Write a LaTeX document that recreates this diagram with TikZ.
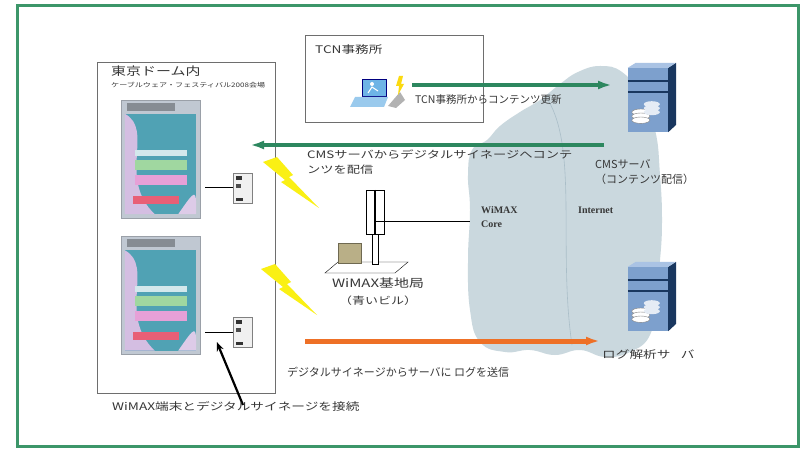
\documentclass[tikz,border=0pt]{standalone}
\usepackage{fontspec}
\setmainfont{Noto Sans CJK JP}
\newfontfamily\jpwide[FakeStretch=1.3]{Noto Sans CJK JP}
\newfontfamily\latinserif{Liberation Serif}
\usepackage{tikz}
\usetikzlibrary{arrows.meta,positioning,calc}
\definecolor{framegreen}{RGB}{60,150,105}
\definecolor{flowgreen}{RGB}{45,135,95}
\definecolor{floworange}{RGB}{238,112,38}
\definecolor{cloudfill}{RGB}{202,216,222}
\definecolor{cloudline}{RGB}{170,190,200}
\definecolor{servermid}{RGB}{125,160,205}
\definecolor{serverdark}{RGB}{25,55,95}
\definecolor{serverlight}{RGB}{170,195,228}
\definecolor{boltyellow}{RGB}{250,240,20}
\definecolor{signteal}{RGB}{80,162,180}
\definecolor{signpink}{RGB}{230,160,215}
\definecolor{signgreen}{RGB}{160,215,160}
\definecolor{signred}{RGB}{232,95,118}
\definecolor{signgray}{RGB}{192,200,210}
\definecolor{signlilac}{RGB}{212,190,226}
\definecolor{boxgray}{RGB}{110,110,110}
\definecolor{textgray}{RGB}{55,55,55}
\definecolor{eqkhaki}{RGB}{185,175,135}
\definecolor{pcblue}{RGB}{110,180,230}

% signage panel face, drawn inside a named node
\newcommand{\signface}[1]{%
  \fill[signteal] ($(#1.north west)+(4,14)$) rectangle ($(#1.south east)+(-4,-4)$);
  \fill[signlilac] ($(#1.north west)+(4,14)$) .. controls ($(#1.north west)+(34,30)$) and ($(#1.south west)+(-4,-40)$) .. ($(#1.south west)+(34,-4)$) -- ($(#1.south west)+(4,-4)$) -- cycle;
  \fill[signlilac!80] ($(#1.south east)+(-4,-4)$) .. controls ($(#1.south east)+(-4,-30)$) .. ($(#1.south east)+(-22,-4)$) -- cycle;
  \fill[signgray!70!black] ($(#1.north west)+(6,3)$) rectangle ($(#1.north west)+(54,11)$);
  \fill[white!75!signteal] ($(#1.north west)+(14,50)$) rectangle ($(#1.north west)+(66,56)$);
  \fill[signgreen] ($(#1.north west)+(14,60)$) rectangle ($(#1.north west)+(66,70)$);
  \fill[signpink] ($(#1.north west)+(14,75)$) rectangle ($(#1.north west)+(66,85)$);
  \fill[signred] ($(#1.north west)+(12,96)$) rectangle ($(#1.north west)+(58,104)$);
}

% server cabinet: side, top, slots and disks around a named node
\newcommand{\serverface}[1]{%
  \fill[serverdark] (#1.north east) -- ++(8,-5) -- ++(0,62) -- (#1.south east) -- cycle;
  \fill[serverlight] (#1.north west) -- ++(8,-5) -- ++(40,0) -- (#1.north east) -- cycle;
  \draw[serverdark, line width=2.2pt] ($(#1.north west)!0.2!(#1.south west)$) -- ($(#1.north east)!0.2!(#1.south east)$);
  \draw[serverdark, line width=2.2pt] ($(#1.north west)!0.38!(#1.south west)$) -- ($(#1.north east)!0.38!(#1.south east)$);
  \foreach \dy in {0,4,8} {
    \fill[white!80!servermid] ($(#1.south west)+(24,-28+\dy)$) ellipse (8 and 3);
    \filldraw[fill=white, draw=gray] ($(#1.south west)+(13,-20+\dy)$) ellipse (9 and 3.2);
  }
}

\begin{document}
\begin{tikzpicture}[x=1pt, y=-1pt,
    frame/.style={rectangle, draw=boxgray, thick, minimum width=178pt},
    signpanel/.style={rectangle, fill=signgray, draw=signgray!80!black, minimum width=79pt, minimum height=118pt, inner sep=0pt},
    terminal/.style={rectangle, fill=gray!12, draw=gray, minimum width=19pt, minimum height=30pt, inner sep=0pt},
    server/.style={rectangle, fill=servermid, minimum width=40pt, minimum height=64pt, inner sep=0pt},
    lbl/.style={font=\fontsize{10.5}{14}\selectfont, text=textgray, inner sep=0pt, align=left},
    widelbl/.style={lbl, font=\jpwide\fontsize{10.5}{14}\selectfont},
    flow/.style={-{Latex[length=14pt, width=9pt]}, line width=4pt},
    wire/.style={line width=1pt, black},
    pointer/.style={-{Stealth[length=9pt, width=7pt]}, line width=2.2pt, black}
]

\useasboundingbox (0,0) rectangle (801,449);
\fill[white] (0,0) rectangle (801,449);
\draw[framegreen, line width=3pt] (17,6) rectangle (798,446);

% venue with the two signage panels
\node[frame, minimum height=331pt] (dome) at (186,227.5) {};
\node[widelbl, anchor=north west, font=\jpwide\fontsize{11.5}{13}\selectfont] (domett) at (111,66) {東京ドーム内};
\node[widelbl, anchor=north west, font=\jpwide\fontsize{6.2}{8}\selectfont] (domesub) at (111,82) {ケーブルウェア・フェスティバル2008会場};

\node[signpanel] (sign1) at (160.5,159) {};
\signface{sign1}
\node[signpanel] (sign2) at (160.5,295.5) {};
\signface{sign2}

\node[terminal] (term1) at (242.5,188) {};
\node[terminal] (term2) at (242.5,332) {};
\foreach \t in {term1,term2} {
  \fill[black!80] ($(\t.north west)+(3,3)$) rectangle ($(\t.north west)+(9,7)$);
  \fill[black!70] ($(\t.north west)+(3,11)$) rectangle ($(\t.north west)+(8,15)$);
  \fill[black!80] ($(\t.south west)+(3,-5)$) rectangle ($(\t.south west)+(10,-2)$);
}
\draw[wire] ([xshift=5pt]sign1.east |- term1.west) -- (term1.west);
\draw[wire] ([xshift=5pt]sign2.east |- term2.west) -- (term2.west);

% radio links
\coordinate (bolt1) at (263,157);
\coordinate (bolt2) at (261,264);
\foreach \b in {bolt1,bolt2}
  \fill[boltyellow] (\b) ++(0,5) -- ++(14,-5) -- ++(16,18) -- ++(-4,2) -- ++(30,31) -- ++(-38,-26) -- ++(4,-2) -- cycle;

% WiMAX core and internet cloud
\fill[cloudfill] plot[smooth cycle, tension=0.75] coordinates {
  (472,150) (487,140) (500,126) (520,112) (540,100) (560,84) (578,72) (600,66)
  (622,72) (640,95) (655,130) (660,175) (662,220) (660,260) (655,300) (650,335)
  (630,352) (605,357) (580,350) (555,355) (530,350) (505,352) (480,342)
  (470,310) (468,260) (470,210) (468,175)};
\draw[cloudline, line width=0.6pt] (548,100) .. controls (578,150) and (558,250) .. (572,345);
\coordinate (corewest) at (470,222);
\node[lbl, anchor=north west, font=\latinserif\bfseries\fontsize{10}{14}\selectfont] (corelbl) at (481,206) {WiMAX\\Core};
\node[lbl, anchor=north west, font=\latinserif\bfseries\fontsize{10}{14}\selectfont] (inetlbl) at (578,207) {Internet};

% TCN office
\node[frame, minimum height=87pt] (tcn) at (394,78.5) {};
\node[widelbl, anchor=north west] (tcnlbl) at (315,44) {TCN事務所};
\node[rectangle, fill=pcblue, draw=blue!50!black, minimum width=24pt, minimum height=17pt, inner sep=0pt] (pc) at (374,88) {};
\fill[white] ($(pc.center)+(-2,-4)$) circle (2);
\draw[white, line width=1pt] ($(pc.center)+(-6,5)$) -- ($(pc.center)+(-2,-1)$) -- ($(pc.center)+(4,3)$);
\fill[pcblue!70!white] (355,97) -- (388,97) -- (384,107) -- (350,107) -- cycle;
\fill[gray!60] (388,106) -- (400,92) -- (405,100) -- (396,108) -- cycle;
\fill[boltyellow!80!orange] (399,76) -- (403,76) -- (401,84) -- (404,84) -- (398,95) -- (399,86) -- (396,86) -- cycle;

% base station
\draw[fill=white] (325,273) -- (395,273) -- (408,262) -- (338,262) -- cycle;
\node[rectangle, fill=eqkhaki, draw=eqkhaki!60!black, minimum width=23pt, minimum height=20pt, inner sep=0pt] (eq) at (350,253) {};
\draw[fill=white] (372,232) rectangle (378,264);
\node[rectangle, draw=black, fill=white, minimum width=18pt, minimum height=44pt, inner sep=0pt] (ant) at (375,212) {};
\draw[line width=2pt] (ant.north) -- (ant.south);
\draw[wire] (ant.center |- corewest) -- (corewest);
\node[widelbl, anchor=north, align=center, font=\jpwide\fontsize{11.5}{17}\selectfont] (bslbl) at (378,278) {WiMAX基地局\\{\fontsize{10}{14}\selectfont（青いビル）}};

% servers
\node[server] (cms) at (648,100) {};
\serverface{cms}
\node[lbl, anchor=north west, font=\fontsize{11}{15}\selectfont] (cmslbl) at (595,159) {CMSサーバ\\（コンテンツ配信）};
\node[server] (logsrv) at (648,299) {};
\serverface{logsrv}
\node[widelbl, anchor=north west] (loglbl) at (602,349) {ログ解析サ\hspace{1em}バ};

% data flows
\coordinate (updfrom) at (412,85);
\coordinate (updto) at (612,85);
\draw[flow, flowgreen] (updfrom) -- (updto);
\node[lbl, anchor=north west] (updlbl) at (415,94) {TCN事務所からコンテンツ更新};

\coordinate (distfrom) at (604,145);
\coordinate (distto) at (250,145);
\draw[flow, flowgreen] (distfrom) -- (distto);
\node[widelbl, anchor=north west, font=\jpwide\fontsize{10.2}{15}\selectfont] (distlbl) at (307,150) {CMSサーバからデジタルサイネージへコンテ\\ンツを配信};

\coordinate (logfrom) at (305,341);
\coordinate (logto) at (600,341);
\draw[flow, floworange, line width=5pt] (logfrom) -- (logto);
\node[lbl, anchor=north west, font=\fontsize{11}{14}\selectfont] (logflow) at (287,367) {デジタルサイネージからサーバに ログを送信};

% connection note
\coordinate (notefrom) at (243,405);
\draw[pointer] (notefrom) -- ($(term2.west)+(-16,10)$);
\node[widelbl, anchor=north west] (notelbl) at (112,401) {WiMAX端末とデジタルサイネージを接続};

\end{tikzpicture}
\end{document}
